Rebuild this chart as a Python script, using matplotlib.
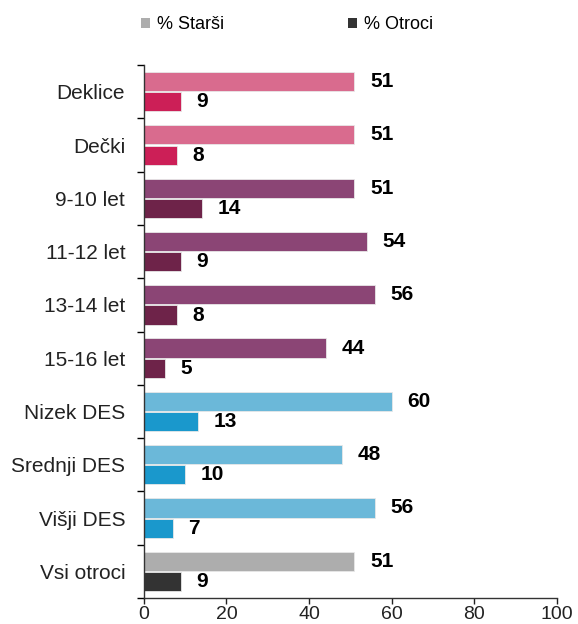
import numpy as np
import matplotlib.pyplot as plt
from matplotlib.patches import Patch

plt.rcParams['font.family'] = ['Liberation Sans', 'DejaVu Sans']

categories = ['Deklice', 'Dečki', '9-10 let', '11-12 let', '13-14 let',
              '15-16 let', 'Nizek DES', 'Srednji DES', 'Višji DES', 'Vsi otroci']
starsi = [51, 51, 51, 54, 56, 44, 60, 48, 56, 51]
otroci = [9, 8, 14, 9, 8, 5, 13, 10, 7, 9]

starsi_colors = ['#D96B8E'] * 2 + ['#8B4575'] * 4 + ['#6BB8D9'] * 3 + ['#ADADAD']
otroci_colors = ['#CC1F57'] * 2 + ['#6E2349'] * 4 + ['#1A98CC'] * 3 + ['#333333']

fig = plt.figure(figsize=(5.78, 6.24), dpi=100)
ax = fig.add_axes([0.249, 0.0417, 0.714, 0.854])

y = np.arange(len(categories))
h = 0.36
ax.barh(y - 0.19, starsi, height=h, color=starsi_colors,
        edgecolor='#e8e8e8', linewidth=0.6)
ax.barh(y + 0.19, otroci, height=h, color=otroci_colors,
        edgecolor='#e8e8e8', linewidth=0.6)

for i in range(len(categories)):
    ax.text(starsi[i] + 3.8, y[i] - 0.19, str(starsi[i]), va='center', ha='left',
            fontsize=15, fontweight='bold')
    ax.text(otroci[i] + 3.8, y[i] + 0.19, str(otroci[i]), va='center', ha='left',
            fontsize=15, fontweight='bold')

ax.set_xlim(0, 100)
ax.set_ylim(len(categories) - 0.5, -0.5)
ax.set_xticks(range(0, 101, 20))
ax.set_yticks(y)
ax.set_yticklabels(categories, fontsize=15, color='#222222')
ax.set_yticks(np.arange(-0.5, len(categories), 1), minor=True)
ax.tick_params(axis='y', which='major', length=0, pad=13.5)
ax.tick_params(axis='y', which='minor', length=5, direction='out', width=1)
ax.tick_params(axis='x', length=4, width=1, labelsize=14, colors='#222222', pad=1.5)
for s in ['top', 'right']:
    ax.spines[s].set_visible(False)
for s in ['left', 'bottom']:
    ax.spines[s].set_color('#333333')
    ax.spines[s].set_linewidth(1)

handles = [Patch(facecolor='#ADADAD'), Patch(facecolor='#333333')]
fig.legend(handles, ['% Starši', '% Otroci'], loc='upper left',
           bbox_to_anchor=(0.215, 1.0), ncol=2, frameon=False, fontsize=13,
           handlelength=0.5, handleheight=0.5, handletextpad=0.4, columnspacing=6.85)

fig.savefig('out.png', dpi=100)
